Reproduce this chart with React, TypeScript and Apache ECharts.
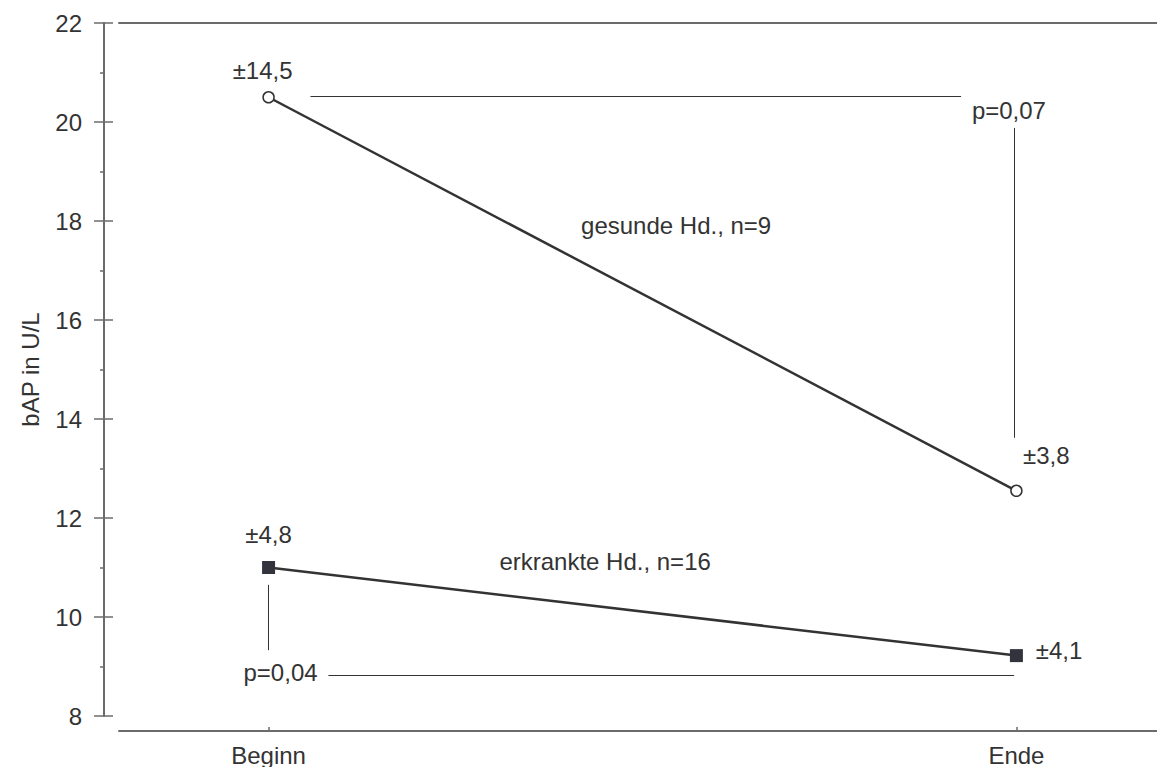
import React, { useEffect, useRef } from "react";
import * as echarts from "echarts";

const categories = ["Beginn", "Ende"];
const gesundeValues = [20.5, 12.55];
const erkrankteValues = [11.0, 9.22];
const yTicks = [8, 10, 12, 14, 16, 18, 20, 22];
const seriesNames = ["gesunde Hd., n=9", "erkrankte Hd., n=16"];

// annotation texts with anchor in data units (x = category index)
const annotations = [
  { text: "±14,5", x: -0.008, y: 21.05 },
  { text: "p=0,07", x: 0.99, y: 20.24 },
  { text: "±3,8", x: 1.04, y: 13.27 },
  { text: seriesNames[0], x: 0.545, y: 17.9 },
  { text: "±4,8", x: 0.0, y: 11.66 },
  { text: seriesNames[1], x: 0.45, y: 11.13 },
  { text: "p=0,04", x: 0.016, y: 8.87 },
  { text: "±4,1", x: 1.057, y: 9.33 },
];

// significance bracket lines in data units
const bracketLines = [
  [[0.056, 20.53], [0.926, 20.53]],
  [[0.997, 19.88], [0.997, 13.62]],
  [[0.0, 10.65], [0.0, 9.33]],
  [[0.08, 8.83], [0.997, 8.83]],
];

const FONT = "'Liberation Sans', Arial, sans-serif";
const TEXT = "#333333";
const AXIS = "#6b6b6b";
const FS = 24;

export default function App() {
  const ref = useRef<HTMLDivElement>(null);
  useEffect(() => {
    document.body.style.margin = "0";
    const chart = echarts.init(ref.current!, null, { renderer: "svg" });
    const xMin = -0.2;
    const xMax = 1.188;
    const option: any = {
      animation: false,
      backgroundColor: "#ffffff",
      textStyle: { fontFamily: FONT, color: TEXT },
      grid: { left: 119, right: 0, top: 23, bottom: 51 },
      xAxis: [
        {
          type: "value",
          position: "bottom",
          min: xMin,
          max: xMax,
          offset: 15,
          splitLine: { show: false },
          axisLine: { show: true, onZero: false, lineStyle: { color: AXIS, width: 2 } },
          axisTick: { show: true, inside: true, length: 4, customValues: [0, 1], lineStyle: { color: AXIS, width: 1.5 } },
          axisLabel: {
            show: true,
            customValues: [0, 1],
            formatter: (v: number) => categories[Math.round(v)] ?? "",
            fontSize: FS,
            color: TEXT,
            fontFamily: FONT,
            margin: 12,
          },
        },
        {
          type: "value",
          position: "top",
          min: xMin,
          max: xMax,
          splitLine: { show: false },
          axisLine: { show: true, onZero: false, lineStyle: { color: AXIS, width: 2 } },
          axisTick: { show: false },
          axisLabel: { show: false },
        },
      ],
      yAxis: [
        {
          type: "value",
          position: "left",
          min: yTicks[0],
          max: yTicks[yTicks.length - 1],
          interval: 2,
          offset: 15,
          name: "bAP in U/L",
          nameLocation: "middle",
          nameGap: 62,
          nameTextStyle: { fontSize: FS, color: TEXT, fontFamily: FONT },
          splitLine: { show: false },
          axisLine: { show: true, onZero: false, lineStyle: { color: AXIS, width: 2 } },
          axisTick: { show: true, length: 10, lineStyle: { color: AXIS, width: 1.5 } },
          minorTick: { show: true, splitNumber: 2, length: 4, lineStyle: { color: AXIS, width: 1.5 } },
          axisLabel: { fontSize: FS, color: TEXT, fontFamily: FONT, margin: 22 },
        },
        {
          type: "value",
          position: "left",
          min: yTicks[0],
          max: yTicks[yTicks.length - 1],
          interval: 2,
          offset: 15,
          splitLine: { show: false },
          axisLine: { show: false, onZero: false },
          axisTick: { show: true, inside: true, length: 9, lineStyle: { color: AXIS, width: 1.5 } },
          axisLabel: { show: false },
        },
      ],
      series: [
        {
          name: seriesNames[0],
          type: "line",
          data: gesundeValues.map((v, i) => [i, v]),
          symbol: "circle",
          symbolSize: 11,
          lineStyle: { color: "#333333", width: 2.5 },
          itemStyle: { color: "#ffffff", borderColor: "#333333", borderWidth: 1.5 },
          z: 5,
        },
        {
          name: seriesNames[1],
          type: "line",
          data: erkrankteValues.map((v, i) => [i, v]),
          symbol: "rect",
          symbolSize: 13,
          lineStyle: { color: "#333333", width: 2.5 },
          itemStyle: { color: "#33333d" },
          z: 5,
        },
        {
          name: "brackets",
          type: "line",
          data: [],
          markLine: {
            silent: true,
            symbol: ["none", "none"],
            label: { show: false },
            lineStyle: { color: "#333333", width: 1, type: "solid" },
            data: bracketLines.map(([a, b]) => [{ coord: a }, { coord: b }]),
          },
        },
        {
          name: "annotations",
          type: "scatter",
          symbolSize: 0,
          itemStyle: { opacity: 1, color: TEXT },
          data: annotations.map((a) => ({ value: [a.x, a.y], name: a.text })),
          label: {
            show: true,
            position: "inside",
            formatter: (p: any) => p.name,
            fontSize: FS,
            color: TEXT,
            opacity: 1,
            textBorderWidth: 0,
            fontFamily: FONT,
          },
          z: 6,
        },
      ],
    };
    chart.setOption(option);
    return () => chart.dispose();
  }, []);
  return <div ref={ref} style={{ position: "fixed", left: 0, top: 0, width: 1157, height: 767 }} />;
}
